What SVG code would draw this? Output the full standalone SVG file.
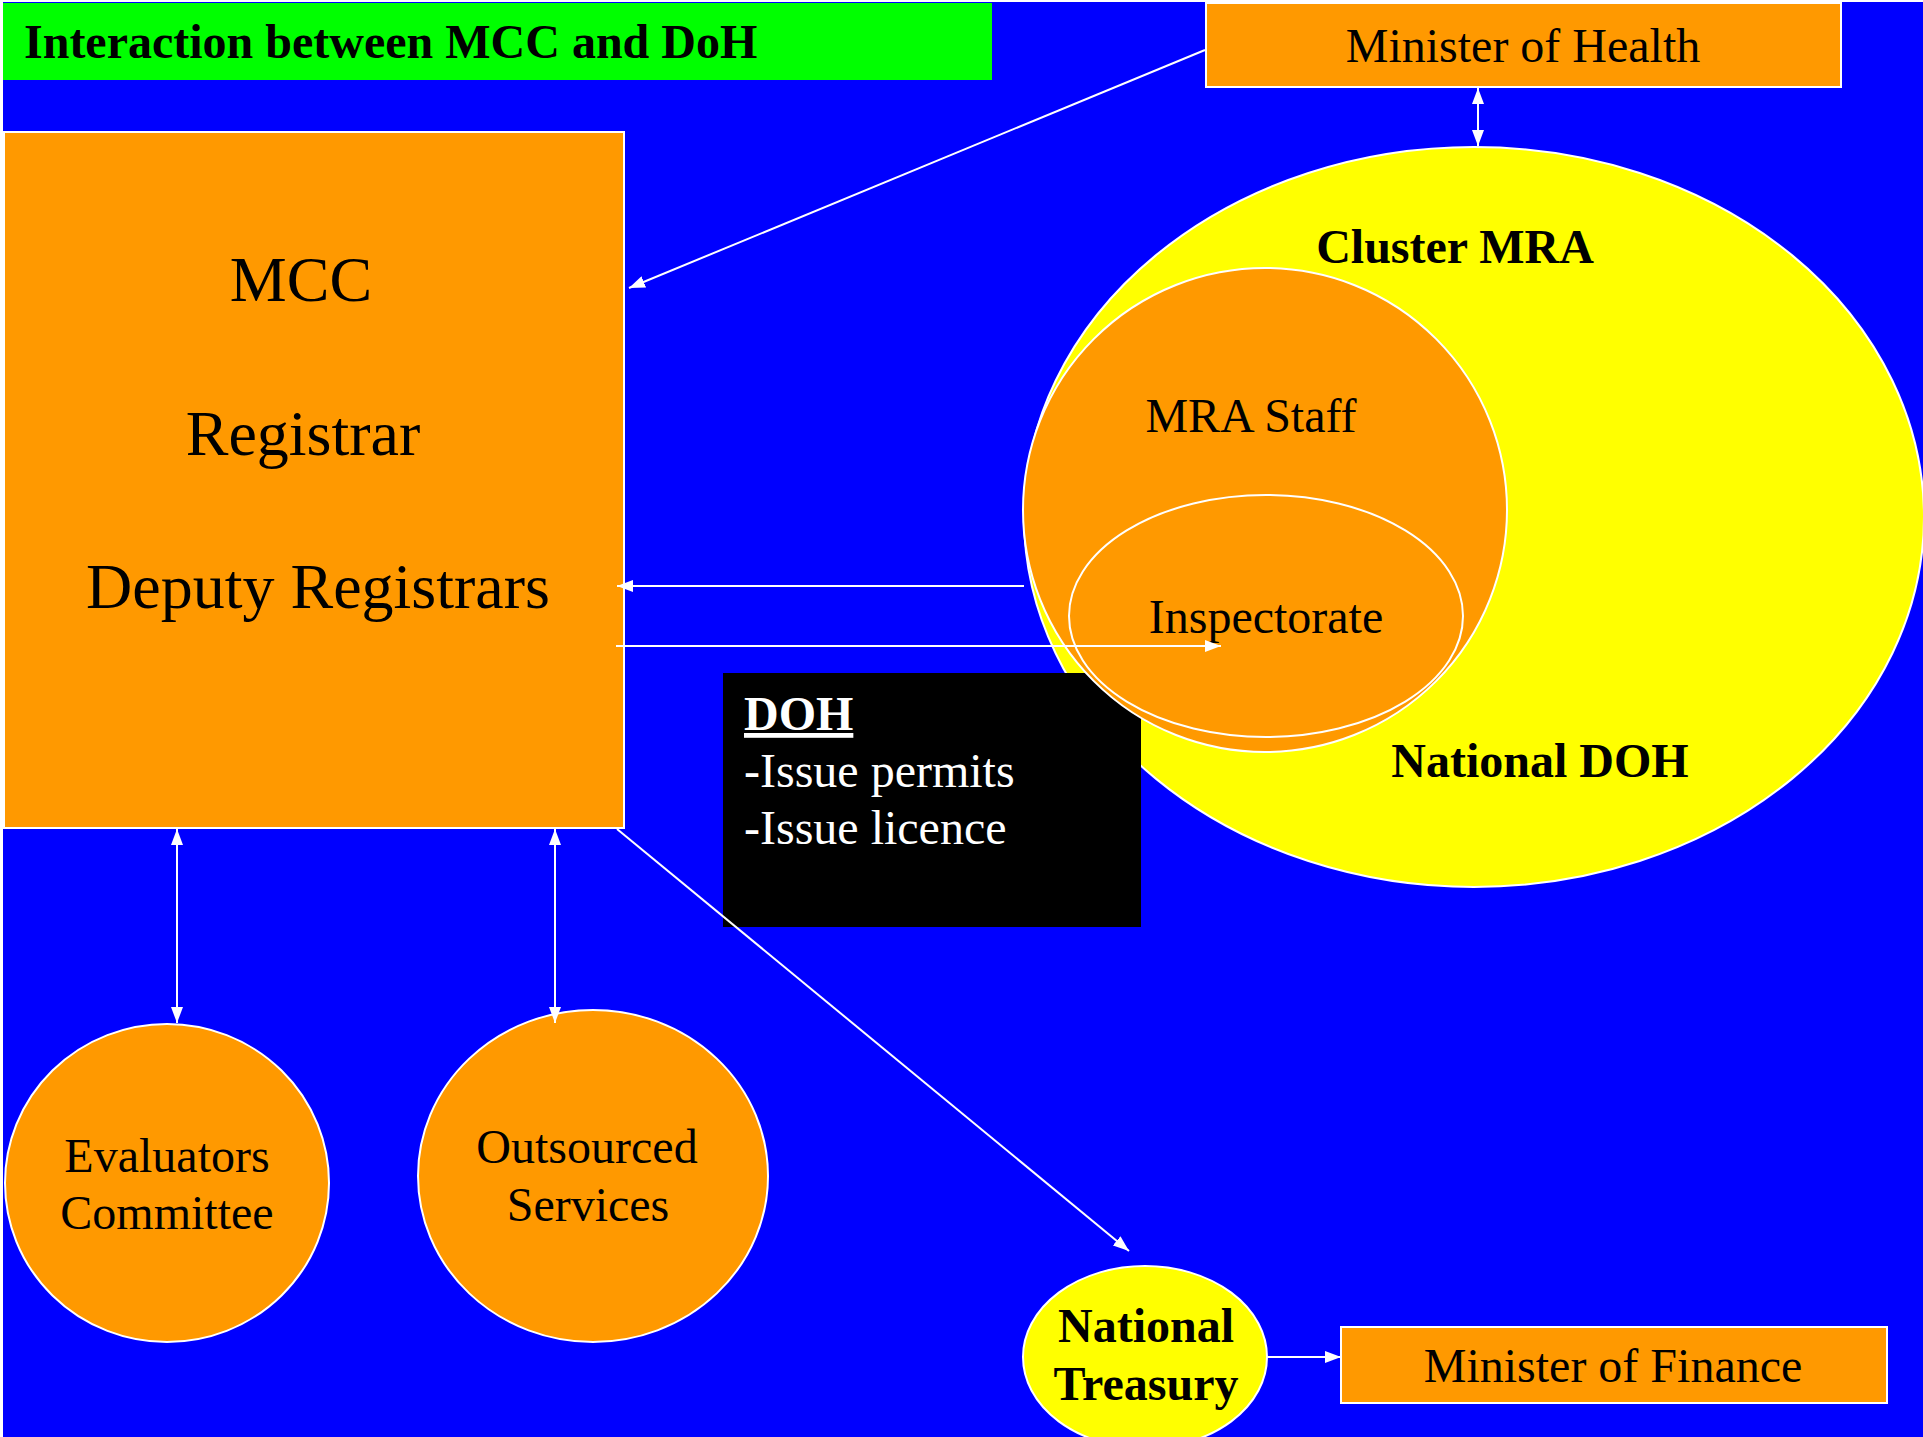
<svg xmlns="http://www.w3.org/2000/svg" width="1923" height="1437" viewBox="0 0 1923 1437">
<defs>
<marker id="arr" viewBox="0 0 16 12" refX="16" refY="6" markerWidth="16" markerHeight="12" markerUnits="userSpaceOnUse" orient="auto-start-reverse">
<path d="M0,0 L16,6 L0,12 z" fill="#FFFFFF"/>
</marker>
<style>
.t{font-family:"Liberation Serif","Times New Roman",serif;fill:#000;}
.n{font-size:48px;}
.b{font-size:48px;font-weight:bold;}
.big{font-size:64px;}
.w{fill:#FFFFFF;}
.or{fill:#FF9900;stroke:#FFFFFF;stroke-width:2;}
.ye{fill:#FFFF00;stroke:#FFFFFF;stroke-width:2;}
.c{stroke:#FFFFFF;stroke-width:2;fill:none;}
</style>
</defs>
<rect x="0" y="0" width="1923" height="1437" fill="#FFFFFF"/>
<rect x="3" y="2" width="1920" height="1435" fill="#0000FF"/>

<g id="title">
<rect x="3" y="3" width="989" height="77" fill="#00FF00"/>
<text class="t b" x="24" y="58">Interaction between MCC and DoH</text>
</g>

<g id="minister-health">
<rect class="or" x="1206" y="3" width="635" height="84"/>
<text class="t n" x="1523" y="62" text-anchor="middle">Minister of Health</text>
</g>

<g id="national-doh">
<ellipse class="ye" cx="1474" cy="517" rx="450" ry="370"/>
<text class="t b" x="1455" y="263" text-anchor="middle">Cluster MRA</text>
<text class="t b" x="1540" y="777" text-anchor="middle">National DOH</text>
</g>

<g id="doh-box">
<rect x="723" y="673" width="418" height="254" fill="#000000"/>
<text class="t b w" x="744" y="730" text-decoration="underline">DOH</text>
<text class="t n w" x="744" y="787">-Issue permits</text>
<text class="t n w" x="744" y="844">-Issue licence</text>
</g>

<g id="mra-staff">
<ellipse class="or" cx="1265" cy="510" rx="242" ry="242"/>
<text class="t n" x="1251" y="432" text-anchor="middle">MRA Staff</text>
</g>

<g id="inspectorate">
<ellipse class="or" cx="1266" cy="616" rx="197" ry="121"/>
<text class="t n" x="1266" y="633" text-anchor="middle">Inspectorate</text>
</g>

<g id="mcc">
<rect class="or" x="4" y="132" width="620" height="696"/>
<text class="t big" x="301" y="301" text-anchor="middle">MCC</text>
<text class="t big" x="303" y="455" text-anchor="middle">Registrar</text>
<text class="t big" x="318" y="608" text-anchor="middle">Deputy Registrars</text>
</g>

<g id="evaluators">
<ellipse class="or" cx="167" cy="1183" rx="162" ry="159"/>
<text class="t n" x="167" y="1172" text-anchor="middle">Evaluators</text>
<text class="t n" x="167" y="1229" text-anchor="middle">Committee</text>
</g>

<g id="outsourced">
<ellipse class="or" cx="593" cy="1176" rx="175" ry="166"/>
<text class="t n" x="587" y="1163" text-anchor="middle">Outsourced</text>
<text class="t n" x="588" y="1221" text-anchor="middle">Services</text>
</g>

<g id="treasury">
<ellipse class="ye" cx="1145" cy="1357" rx="122" ry="91"/>
<text class="t b" x="1146" y="1342" text-anchor="middle">National</text>
<text class="t b" x="1146" y="1400" text-anchor="middle">Treasury</text>
</g>

<g id="minister-finance">
<rect class="or" x="1341" y="1327" width="546" height="76"/>
<text class="t n" x="1613" y="1382" text-anchor="middle">Minister of Finance</text>
</g>

<g id="connectors">
<line class="c" x1="1205" y1="50" x2="629" y2="288" marker-end="url(#arr)"/>
<line class="c" x1="1478" y1="88" x2="1478" y2="146" marker-start="url(#arr)" marker-end="url(#arr)"/>
<line class="c" x1="1024" y1="586" x2="617" y2="586" marker-end="url(#arr)"/>
<line class="c" x1="616" y1="646" x2="1221" y2="646" marker-end="url(#arr)"/>
<line class="c" x1="177" y1="829" x2="177" y2="1023" marker-start="url(#arr)" marker-end="url(#arr)"/>
<line class="c" x1="555" y1="829" x2="555" y2="1023" marker-start="url(#arr)" marker-end="url(#arr)"/>
<line class="c" x1="617" y1="829" x2="1129" y2="1251" marker-end="url(#arr)"/>
<line class="c" x1="1267" y1="1357" x2="1341" y2="1357" marker-end="url(#arr)"/>
</g>
</svg>
